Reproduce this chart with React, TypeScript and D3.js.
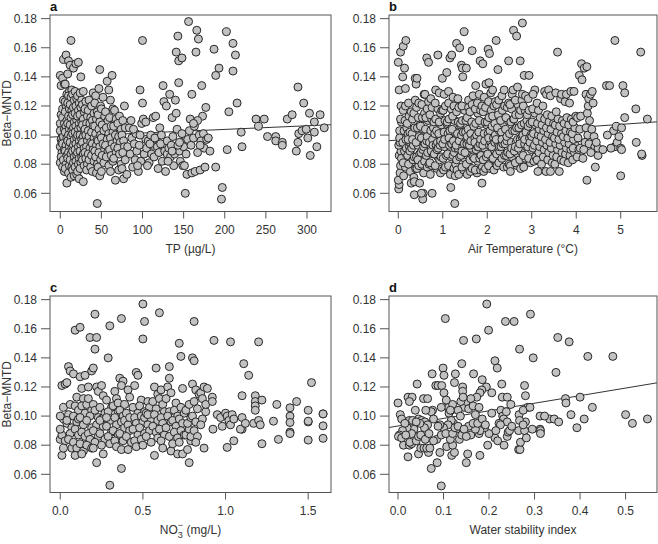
import React from 'react';
import * as d3 from 'd3';

const betaTicks = [0.06, 0.08, 0.1, 0.12, 0.14, 0.16, 0.18];
const tpTicks = [0, 50, 100, 150, 200, 250, 300];
const airTempTicks = [0, 1, 2, 3, 4, 5];
const nitrateTicks = [0, 0.5, 1.0, 1.5];
const stabilityTicks = [0, 0.1, 0.2, 0.3, 0.4, 0.5];

// [TP (µg/L), Beta-MNTD]
const tpPoints: [number, number][] = [
  [0,.141],[1,.134],[0,.108],[2,.101],[1,.097],[0,.092],[2,.088],[1,.085],[0,.081],[2,.095],[1,.114],[0,.103],
  [4,.152],[3,.139],[5,.135],[4,.124],[3,.112],[5,.104],[4,.099],[3,.094],[5,.09],[4,.083],[3,.078],[5,.075],[3,.118],[5,.108],
  [7,.155],[6,.135],[8,.128],[7,.12],[6,.116],[8,.11],[7,.106],[6,.102],[8,.098],[7,.093],[6,.089],[8,.086],[7,.08],[6,.077],[8,.067],[6,.123],
  [10,.151],[9,.142],[11,.13],[10,.127],[9,.122],[11,.118],[10,.113],[9,.108],[11,.104],[10,.1],[9,.096],[11,.092],[10,.088],[9,.084],[11,.079],[10,.074],
  [13,.165],[12,.148],[14,.131],[13,.126],[12,.121],[14,.117],[13,.112],[12,.107],[14,.103],[13,.099],[12,.095],[14,.091],[13,.087],[12,.083],[14,.078],[13,.071],
  [16,.146],[15,.128],[17,.124],[16,.119],[15,.114],[17,.109],[16,.105],[15,.101],[17,.097],[16,.093],[15,.089],[17,.085],[16,.081],[15,.076],[17,.072],
  [19,.149],[18,.13],[20,.125],[19,.12],[18,.115],[20,.11],[19,.106],[18,.102],[20,.098],[19,.094],[18,.09],[20,.086],[19,.082],[18,.078],[20,.073],
  [22,.15],[21,.127],[23,.122],[22,.117],[21,.113],[23,.108],[22,.104],[21,.1],[23,.096],[22,.092],[21,.088],[23,.084],[22,.08],[21,.075],[23,.07],
  [25,.14],[24,.129],[26,.124],[25,.119],[24,.114],[26,.109],[25,.105],[24,.1],[26,.097],[25,.093],[24,.089],[26,.085],[25,.081],[24,.077],
  [28,.13],[27,.121],[29,.116],[28,.111],[27,.107],[29,.103],[28,.099],[27,.095],[29,.091],[28,.087],[27,.083],[29,.079],[28,.068],
  [31,.123],[30,.118],[33,.113],[32,.108],[30,.104],[31,.1],[33,.096],[32,.092],[30,.088],[31,.084],[33,.08],[32,.076],
  [35,.124],[34,.117],[37,.112],[36,.108],[34,.103],[35,.099],[37,.095],[36,.091],[34,.087],[35,.083],[37,.078],
  [40,.129],[38,.12],[41,.115],[39,.11],[40,.106],[38,.102],[41,.098],[39,.094],[40,.09],[38,.086],[41,.082],[39,.075],
  [43,.127],[42,.122],[45,.116],[44,.111],[42,.106],[43,.101],[45,.097],[44,.093],[42,.089],[43,.085],[45,.08],[44,.074],[45,.053],
  [48,.145],[47,.132],[49,.12],[46,.114],[48,.109],[47,.104],[49,.1],[46,.096],[48,.092],[47,.088],[49,.083],[46,.078],[48,.072],
  [52,.126],[50,.118],[54,.113],[51,.107],[53,.103],[50,.098],[52,.094],[54,.09],[51,.086],[53,.081],[50,.075],
  [57,.137],[59,.131],[55,.116],[58,.11],[56,.105],[59,.101],[57,.097],[55,.093],[58,.089],[56,.085],[59,.079],
  [63,.141],[61,.124],[64,.118],[60,.112],[62,.106],[64,.102],[61,.098],[63,.094],[60,.09],[62,.086],[64,.082],[61,.075],
  [66,.117],[68,.111],[65,.106],[67,.1],[69,.096],[66,.092],[68,.088],[65,.084],[67,.069],
  [72,.113],[70,.108],[74,.104],[71,.099],[73,.095],[70,.091],[72,.087],[74,.08],[71,.076],
  [78,.12],[76,.11],[79,.105],[75,.1],[77,.096],[78,.092],[76,.088],[79,.083],[75,.077],[77,.07],
  [82,.092],[84,.105],[85,.087],[87,.098],[88,.078],[90,.094],[91,.083],[92,.101],[93,.089],[95,.075],[96,.093],[97,.131],[98,.082],[99,.108],[100,.122],[100,.165],[101,.111],[102,.087],[104,.109],[104,.097],[81,.073],[86,.11],[89,.104],[94,.079],[97,.1],
  [105,.091],[107,.096],[108,.081],[110,.1],[111,.087],[112,.093],[113,.112],[114,.085],[116,.113],[117,.098],[118,.092],[119,.077],[120,.088],[121,.105],[122,.094],[124,.082],[125,.134],[126,.123],[127,.089],[128,.075],[129,.12],[130,.096],[106,.079],[109,.094],[115,.098],[123,.1],[130,.087],
  [132,.091],[133,.128],[134,.085],[135,.093],[136,.112],[137,.099],[138,.079],[139,.087],[140,.124],[141,.157],[141,.115],[142,.104],[143,.168],[144,.136],[144,.151],[145,.089],[146,.082],[147,.095],[148,.153],[148,.101],[149,.079],[150,.092],[151,.079],[152,.06],[153,.087],[154,.073],[155,.097],[156,.178],[157,.103],[158,.111],[159,.093],[160,.128],[160,.074],[131,.082],[136,.089],[143,.093],[145,.095],
  [162,.098],[163,.106],[164,.075],[165,.157],[166,.172],[167,.088],[168,.166],[169,.1],[170,.076],[171,.096],[172,.134],[173,.113],[174,.101],[175,.091],[176,.078],[177,.119],[178,.097],[180,.098],[182,.089],[187,.159],[189,.141],[189,.078],[193,.146],[197,.064],[196,.056],[202,.171],[203,.09],[205,.116],[210,.163],[210,.144],[213,.155],[215,.122],[220,.102],[221,.092],[167,.11],[162,.108],[170,.093],
  [238,.111],[241,.106],[248,.111],[252,.099],[262,.099],[262,.096],[270,.095],[270,.093],[276,.111],[282,.114],[289,.133],[289,.095],[287,.089],[290,.101],[294,.103],[296,.122],[299,.104],[301,.098],[303,.115],[304,.086],[309,.102],[309,.109],[312,.092],[316,.114],[321,.105]
];

// [Air temperature (°C), Beta-MNTD]
const airTempPoints: [number, number][] = [
  [.01,.063],[.02,.066],[0,.069],[.04,.074],[.05,.079],[.02,.086],[.06,.089],[.01,.093],[.04,.095],[.08,.101],[.03,.103],[.07,.109],[.05,.111],[.02,.131],[.06,.12],[0,.15],[.05,.157],[.03,.098],[.07,.084],
  [.12,.072],[.16,.078],[.11,.081],[.18,.087],[.14,.089],[.1,.095],[.17,.097],[.13,.103],[.19,.105],[.15,.11],[.11,.117],[.16,.12],[.11,.161],[.17,.165],[.16,.132],[.1,.14],[.14,.146],[.18,.091],
  [.27,.075],[.23,.08],[.29,.085],[.21,.086],[.25,.092],[.28,.094],[.22,.101],[.26,.102],[.2,.108],[.24,.113],[.29,.116],[.23,.122],[.29,.067],[.22,.097],[.26,.089],
  [.35,.071],[.39,.077],[.33,.083],[.36,.085],[.3,.091],[.34,.093],[.38,.099],[.31,.101],[.37,.105],[.32,.111],[.35,.115],[.38,.124],[.32,.097],[.36,.059],[.38,.139],[.36,.068],
  [.42,.077],[.46,.079],[.41,.085],[.48,.087],[.44,.093],[.4,.095],[.47,.099],[.43,.105],[.49,.107],[.45,.112],[.41,.119],[.46,.122],[.4,.135],[.42,.139],[.48,.067],[.44,.083],
  [.57,.074],[.53,.08],[.59,.082],[.51,.088],[.55,.09],[.58,.096],[.52,.098],[.56,.104],[.5,.106],[.54,.112],[.59,.115],[.53,.121],[.56,.06],[.58,.128],[.55,.056],[.52,.06],[.57,.092],
  [.65,.078],[.69,.08],[.63,.086],[.66,.088],[.6,.094],[.64,.096],[.68,.102],[.61,.104],[.67,.11],[.62,.112],[.65,.118],[.68,.123],[.64,.153],[.68,.15],[.6,.128],[.65,.099],
  [.72,.073],[.76,.079],[.71,.081],[.78,.087],[.74,.089],[.7,.095],[.77,.097],[.73,.103],[.79,.105],[.75,.111],[.71,.114],[.76,.119],[.76,.06],[.73,.125],[.78,.093],
  [.87,.077],[.83,.079],[.89,.085],[.81,.087],[.85,.093],[.88,.095],[.82,.101],[.86,.103],[.8,.109],[.84,.111],[.89,.118],[.83,.122],[.89,.155],[.84,.131],[.87,.09],
  [.95,.074],[.99,.077],[.93,.083],[.96,.085],[.9,.091],[.94,.093],[.98,.099],[.91,.101],[.97,.107],[.92,.109],[.95,.115],[.98,.117],[.99,.139],[.92,.129],[.95,.096],
  [1.02,.076],[1.06,.078],[1.01,.084],[1.08,.086],[1.04,.092],[1.0,.094],[1.07,.1],[1.03,.102],[1.09,.108],[1.05,.11],[1.01,.117],[1.06,.12],[1.03,.128],[1.09,.143],[1.04,.097],
  [1.17,.073],[1.13,.079],[1.19,.085],[1.11,.087],[1.15,.093],[1.18,.095],[1.12,.101],[1.16,.103],[1.1,.109],[1.14,.111],[1.19,.118],[1.13,.122],[1.18,.064],[1.13,.13],[1.16,.153],[1.2,.155],[1.14,.098],
  [1.25,.077],[1.29,.08],[1.23,.086],[1.26,.088],[1.2,.094],[1.24,.096],[1.28,.102],[1.21,.104],[1.27,.11],[1.22,.113],[1.25,.12],[1.28,.072],[1.27,.053],[1.23,.126],[1.28,.091],
  [1.32,.076],[1.36,.073],[1.31,.083],[1.38,.085],[1.34,.091],[1.3,.093],[1.37,.099],[1.33,.101],[1.39,.107],[1.35,.109],[1.31,.116],[1.36,.119],[1.31,.163],[1.38,.16],[1.34,.125],[1.37,.096],
  [1.47,.076],[1.43,.078],[1.49,.084],[1.41,.086],[1.45,.092],[1.48,.094],[1.42,.1],[1.46,.102],[1.4,.108],[1.44,.11],[1.49,.117],[1.43,.12],[1.48,.171],[1.42,.148],[1.45,.14],[1.44,.146],[1.43,.089],
  [1.55,.073],[1.59,.078],[1.53,.08],[1.56,.086],[1.5,.088],[1.54,.094],[1.58,.096],[1.51,.102],[1.57,.104],[1.52,.11],[1.55,.112],[1.58,.119],[1.53,.146],[1.58,.124],[1.55,.099],
  [1.62,.075],[1.66,.077],[1.61,.083],[1.68,.085],[1.64,.091],[1.6,.093],[1.67,.099],[1.63,.101],[1.69,.107],[1.65,.109],[1.61,.116],[1.66,.121],[1.66,.158],[1.68,.127],[1.63,.096],
  [1.77,.074],[1.73,.076],[1.79,.082],[1.71,.084],[1.75,.09],[1.78,.092],[1.72,.098],[1.76,.1],[1.7,.106],[1.74,.108],[1.79,.115],[1.73,.118],[1.74,.134],[1.78,.122],[1.72,.095],
  [1.85,.076],[1.89,.078],[1.83,.084],[1.86,.086],[1.8,.092],[1.84,.094],[1.88,.1],[1.81,.102],[1.87,.108],[1.82,.11],[1.85,.117],[1.88,.12],[1.84,.151],[1.88,.067],[1.82,.128],[1.85,.097],
  [1.92,.075],[1.96,.077],[1.91,.083],[1.98,.085],[1.94,.091],[1.9,.093],[1.97,.099],[1.93,.101],[1.99,.107],[1.95,.109],[1.91,.116],[1.96,.119],[1.9,.149],[1.97,.135],[1.93,.126],[1.94,.096],
  [2.07,.077],[2.03,.079],[2.09,.085],[2.01,.087],[2.05,.093],[2.08,.095],[2.02,.101],[2.06,.103],[2.0,.109],[2.04,.112],[2.09,.117],[2.03,.123],[2.02,.159],[2.05,.156],[2.04,.136],[2.08,.129],[2.03,.098],
  [2.15,.076],[2.19,.082],[2.13,.084],[2.16,.09],[2.1,.092],[2.14,.098],[2.18,.1],[2.11,.106],[2.17,.108],[2.12,.113],[2.15,.12],[2.18,.123],[2.12,.131],[2.17,.095],
  [2.22,.079],[2.26,.081],[2.21,.087],[2.28,.089],[2.24,.095],[2.2,.097],[2.27,.103],[2.23,.105],[2.29,.111],[2.25,.114],[2.21,.121],[2.26,.124],[2.2,.165],[2.24,.145],[2.27,.092],
  [2.37,.078],[2.33,.084],[2.39,.086],[2.31,.092],[2.35,.094],[2.38,.1],[2.32,.102],[2.36,.108],[2.3,.11],[2.34,.117],[2.39,.12],[2.33,.127],[2.38,.131],[2.33,.097],
  [2.45,.078],[2.49,.08],[2.43,.086],[2.46,.088],[2.4,.094],[2.44,.096],[2.48,.102],[2.41,.104],[2.47,.11],[2.42,.112],[2.45,.119],[2.48,.122],[2.48,.151],[2.44,.099],
  [2.52,.079],[2.56,.085],[2.51,.087],[2.58,.093],[2.54,.095],[2.5,.101],[2.57,.103],[2.53,.109],[2.59,.111],[2.55,.118],[2.51,.121],[2.56,.128],[2.58,.131],[2.59,.172],[2.52,.075],[2.55,.091],
  [2.67,.079],[2.63,.081],[2.69,.087],[2.61,.089],[2.65,.095],[2.68,.097],[2.62,.103],[2.66,.105],[2.6,.111],[2.64,.114],[2.69,.121],[2.63,.124],[2.66,.168],[2.68,.133],[2.63,.092],
  [2.75,.077],[2.79,.081],[2.73,.083],[2.76,.089],[2.7,.091],[2.74,.097],[2.78,.099],[2.71,.105],[2.77,.107],[2.72,.114],[2.75,.117],[2.78,.124],[2.79,.177],[2.74,.151],[2.79,.128],[2.73,.094],
  [2.82,.078],[2.86,.084],[2.81,.086],[2.88,.092],[2.84,.094],[2.8,.1],[2.87,.102],[2.83,.108],[2.89,.11],[2.85,.117],[2.81,.12],[2.83,.141],[2.86,.127],[2.84,.097],
  [2.97,.081],[2.93,.084],[2.99,.09],[2.91,.092],[2.95,.098],[2.98,.1],[2.92,.106],[2.96,.108],[2.9,.114],[2.94,.117],[2.92,.125],[2.94,.141],[2.96,.095],
  [3.05,.082],[3.09,.085],[3.03,.091],[3.06,.093],[3.0,.099],[3.04,.101],[3.08,.107],[3.01,.109],[3.07,.115],[3.02,.118],[3.07,.131],[3.03,.128],
  [3.14,.075],[3.12,.083],[3.16,.088],[3.18,.092],[3.11,.096],[3.15,.1],[3.17,.104],[3.13,.108],[3.19,.112],[3.15,.117],[3.12,.122],
  [3.22,.08],[3.26,.085],[3.28,.09],[3.24,.095],[3.21,.099],[3.27,.103],[3.23,.107],[3.29,.111],[3.25,.12],[3.29,.13],
  [3.32,.075],[3.36,.083],[3.38,.088],[3.34,.093],[3.31,.097],[3.37,.101],[3.33,.105],[3.39,.109],[3.35,.114],[3.33,.128],[3.38,.131],
  [3.42,.075],[3.46,.081],[3.48,.086],[3.44,.091],[3.41,.095],[3.47,.099],[3.43,.104],[3.49,.108],[3.45,.113],[3.42,.127],
  [3.52,.08],[3.56,.085],[3.58,.09],[3.54,.094],[3.51,.098],[3.57,.102],[3.53,.107],[3.59,.111],[3.55,.116],[3.58,.157],[3.54,.129],
  [3.62,.075],[3.66,.083],[3.68,.088],[3.64,.093],[3.61,.097],[3.67,.101],[3.63,.106],[3.69,.11],[3.65,.125],[3.67,.128],
  [3.72,.082],[3.76,.087],[3.78,.091],[3.74,.095],[3.71,.099],[3.77,.103],[3.73,.108],[3.79,.112],[3.75,.123],[3.78,.128],
  [3.82,.081],[3.86,.086],[3.88,.09],[3.84,.094],[3.81,.098],[3.87,.102],[3.83,.107],[3.89,.111],[3.85,.122],[3.88,.13],
  [3.92,.083],[3.96,.088],[3.98,.093],[3.94,.097],[3.91,.101],[3.97,.105],[3.93,.109],[3.99,.113],[3.95,.13],[3.93,.091],
  [4.02,.085],[4.06,.09],[4.04,.098],[4.08,.104],[4.03,.112],[4.07,.141],[4.1,.113],[4.09,.091],
  [4.12,.149],[4.18,.146],[4.24,.147],[4.13,.138],[4.15,.084],[4.24,.069],[4.2,.095],[4.22,.105],[4.25,.115],[4.27,.12],[4.22,.128],[4.28,.125],[4.26,.1],[4.29,.094],[4.17,.09],[4.3,.11],
  [4.32,.128],[4.36,.13],[4.38,.122],[4.35,.104],[4.4,.099],[4.42,.092],[4.43,.078],[4.49,.086],[4.49,.091],[4.45,.095],[4.33,.088],
  [4.68,.134],[4.75,.134],[5.05,.134],[5.09,.129],[5.34,.118],[5.09,.112],[4.84,.103],[5.6,.111],[5.35,.095],[5.48,.086],[5.47,.087],[5.0,.072],[4.87,.092],[4.92,.095],[4.96,.099],[5.0,.091],[5.02,.09],[4.78,.091],[4.87,.165],[5.45,.157],[4.6,.09],[4.7,.1],[4.9,.106],[5.02,.105]
];

// [NO3- (mg/L), Beta-MNTD]
const nitratePoints: [number, number][] = [
  [0,.084],[.01,.087],[0,.091],[.02,.106],[.01,.073],[.03,.083],[.02,.098],[.01,.121],[.03,.122],[0,.1],[.02,.078],
  [.04,.123],[.05,.134],[.06,.108],[.05,.101],[.04,.095],[.07,.092],[.06,.088],[.05,.084],[.07,.078],[.04,.097],[.06,.131],
  [.09,.159],[.08,.129],[.1,.113],[.09,.107],[.11,.104],[.08,.1],[.1,.096],[.09,.091],[.11,.087],[.08,.082],[.1,.078],[.09,.073],[.11,.098],
  [.12,.161],[.12,.127],[.14,.112],[.13,.107],[.15,.102],[.12,.099],[.14,.094],[.13,.089],[.15,.086],[.12,.081],[.14,.076],[.13,.074],[.15,.128],[.13,.119],
  [.18,.154],[.17,.12],[.16,.108],[.19,.104],[.18,.1],[.16,.097],[.19,.092],[.17,.088],[.18,.084],[.16,.08],[.19,.078],[.17,.112],[.19,.131],
  [.21,.17],[.22,.154],[.21,.146],[.2,.133],[.22,.12],[.23,.117],[.2,.108],[.21,.104],[.23,.099],[.22,.094],[.2,.09],[.23,.086],[.21,.082],[.22,.068],[.2,.078],
  [.25,.121],[.26,.114],[.24,.106],[.27,.102],[.25,.098],[.26,.093],[.24,.088],[.27,.084],[.25,.08],[.26,.074],[.24,.097],
  [.29,.14],[.3,.162],[.28,.111],[.31,.106],[.29,.103],[.3,.097],[.28,.093],[.31,.089],[.29,.086],[.3,.081],[.3,.0525],[.28,.099],
  [.33,.117],[.34,.112],[.32,.107],[.35,.103],[.33,.099],[.34,.094],[.32,.09],[.35,.087],[.33,.083],[.34,.079],[.35,.109],
  [.37,.167],[.36,.126],[.38,.124],[.37,.121],[.39,.108],[.36,.104],[.38,.1],[.37,.096],[.39,.092],[.36,.088],[.38,.083],[.37,.077],[.37,.064],[.39,.097],
  [.41,.118],[.42,.113],[.4,.102],[.43,.097],[.41,.094],[.42,.09],[.4,.086],[.43,.082],[.41,.077],[.42,.099],
  [.46,.13],[.47,.128],[.45,.121],[.44,.106],[.47,.102],[.45,.099],[.46,.095],[.44,.091],[.47,.087],[.45,.083],[.46,.079],
  [.5,.177],[.5,.153],[.49,.111],[.48,.107],[.51,.103],[.49,.1],[.5,.096],[.48,.092],[.51,.088],[.49,.084],[.5,.08],[.51,.099],
  [.51,.165],[.53,.11],[.54,.106],[.52,.102],[.55,.098],[.53,.094],[.54,.09],[.52,.086],[.55,.082],[.53,.101],
  [.6,.171],[.58,.133],[.57,.12],[.59,.115],[.56,.11],[.58,.105],[.57,.101],[.59,.097],[.56,.093],[.58,.089],[.57,.073],[.59,.085],
  [.61,.118],[.6,.112],[.62,.108],[.63,.103],[.61,.099],[.62,.095],[.6,.091],[.63,.087],[.61,.083],[.62,.078],
  [.66,.134],[.66,.126],[.65,.12],[.67,.116],[.64,.112],[.66,.103],[.65,.1],[.67,.096],[.64,.092],[.66,.086],[.67,.076],
  [.7,.109],[.69,.104],[.71,.1],[.68,.097],[.7,.093],[.69,.089],[.71,.085],[.68,.081],[.71,.074],
  [.72,.15],[.73,.141],[.74,.119],[.73,.106],[.75,.102],[.72,.098],[.74,.095],[.73,.09],[.75,.087],[.72,.082],[.74,.074],
  [.78,.068],[.77,.077],[.79,.083],[.76,.087],[.78,.091],[.77,.095],[.79,.099],[.76,.104],[.78,.108],[.79,.086],
  [.81,.165],[.8,.14],[.81,.138],[.8,.122],[.82,.118],[.81,.11],[.83,.105],[.8,.1],[.82,.096],[.81,.09],[.83,.086],[.82,.082],
  [.84,.115],[.85,.116],[.86,.112],[.87,.078],[.86,.098],[.88,.103],[.85,.094],[.87,.12],[.88,.108],
  [.89,.119],[.93,.152],[.92,.113],[.92,.11],[.924,.091],[.95,.101],[.97,.099],[.98,.093],[1.0,.102],[1.01,.1],[1.02,.097],[1.03,.094],[1.04,.101],[1.05,.098],[1.03,.151],[1.01,.0785],[1.05,.083],
  [1.1,.114],[1.1,.099],[1.1,.091],[1.09,.091],[1.12,.095],[1.11,.136],[1.14,.128],[1.17,.095],[1.2,.097],[1.21,.094],[1.2,.151],[1.18,.114],[1.18,.11],[1.18,.107],[1.18,.104],[1.22,.111],[1.22,.081],
  [1.29,.0965],[1.31,.108],[1.32,.084],[1.39,.1057],[1.39,.1],[1.39,.0956],[1.39,.089],[1.39,.088],[1.43,.11],[1.5,.104],[1.5,.096],[1.5,.0965],[1.5,.0835],[1.52,.123],[1.59,.1015],[1.59,.1015],[1.59,.0933],[1.59,.0847]
];

// [Water stability index, Beta-MNTD]
const stabilityPoints: [number, number][] = [
  [.195,.177],[.104,.167],[.291,.17],[.236,.165],[.255,.165],[.199,.159],[.144,.152],[.172,.153],[.351,.154],[.376,.151],[.267,.146],[.297,.14],[.213,.138],[.218,.133],[.417,.141],[.472,.141],[.347,.13],[.099,.133],[.101,.128],[.14,.136],[.075,.129],[.166,.129],[.126,.129],[.185,.125],
  [.042,.122],[.124,.123],[.083,.121],[.088,.121],[.096,.121],[.142,.12],[.142,.117],[.194,.12],[.206,.116],[.228,.122],[.278,.121],[.28,.114],[.184,.118],[.18,.116],[.101,.116],[.173,.113],[.022,.113],[.031,.113],[.025,.11],[.056,.112],[.065,.112],[.229,.113],[.24,.113],[.248,.108],[.368,.112],[.369,.109],[.4,.113],[.427,.106],[0,.109],[.285,.106],
  [.111,.106],[.112,.102],[.117,.104],[.145,.106],[.15,.11],[.16,.112],[.155,.105],[.165,.107],[.17,.101],[.178,.106],[.132,.104],[.137,.1],[.12,.108],[.115,.104],[.076,.104],[.073,.103],[.078,.098],[.095,.106],[.106,.111],[.038,.104],[.045,.098],[.005,.101],[.008,.098],[.025,.097],[.032,.097],[.052,.097],[.059,.096],[.061,.104],[.138,.11],[.143,.113],[.226,.104],[.23,.1],[.232,.098],[.238,.103],[.24,.096],[.266,.101],[.275,.104],[.28,.096],[.29,.106],[.267,.097],[.206,.102],[.222,.095],
  [.5,.101],[.515,.095],[.548,.098],[.38,.101],[.409,.098],[.393,.092],[.333,.098],[.343,.098],[.353,.096],[.312,.1],[.322,.1],[.312,.091],[.313,.09],[.313,.088],[.295,.091],[.265,.09],[.278,.09],[.265,.077],[.268,.077],[.269,.082],
  [.095,.052],[.073,.064],[.086,.068],[.15,.068],[.118,.073],[.124,.075],[.153,.074],[.18,.073],[.022,.072],[.067,.075],[.092,.075],[.045,.074],[.012,.08],[.025,.08],[.03,.081],[.05,.078],[.057,.078],[.063,.078],[.07,.078],[.085,.084],[.078,.083],[.107,.079],[.12,.08],[.115,.084],[.135,.084],[.14,.087],[.16,.087],[.178,.088],[.197,.08],[.213,.085],[.219,.083],[.233,.08],[.24,.086],[.242,.089],[.2,.088],[.19,.092],[.18,.09],[.17,.091],[.155,.093],[.128,.091],[.122,.095],[.117,.097],[.11,.094],[.1,.092],[.092,.094],[.088,.093],[.065,.094],[.058,.092],[.048,.095],[.04,.096],[.035,.091],[.03,.088],[.02,.092],[.015,.095],[.01,.09],[.003,.087],[.001,.086],[.008,.085],[.017,.087],[.026,.082],[.04,.083],[.045,.086],[.05,.087],[.06,.084],[.068,.088],[.095,.087],[.105,.088],[.12,.088],[.125,.092],[.132,.093],[.145,.091],[.15,.086],[.165,.095],[.175,.095],[.185,.098],[.192,.094],[.225,.094],[.215,.09],[.245,.09],[.25,.093],[.275,.094],[.282,.085]
];

// linear fits drawn in panels a, b and d
const fitTP = { intercept: 0.0989, slope: 0.000025 };
const fitAirTemp = { intercept: 0.0966, slope: 0.00215 };
const fitStability = { intercept: 0.0932, slope: 0.0521 };

const FONT = "'Liberation Sans', Arial, Helvetica, sans-serif";
const TEXT = '#333';

type PanelSpec = {
  label: string;
  left: number; right: number; top: number; bottom: number;
  xDomain: [number, number];
  xTicks: number[];
  xFormat: (v: number) => string;
  points: [number, number][];
  fit?: { intercept: number; slope: number };
  xTitle: React.ReactNode;
  yTitle: boolean;
};

function Panel({ p }: { p: PanelSpec }) {
  const x = d3.scaleLinear().domain(p.xDomain).range([p.left, p.right]);
  const y = d3.scaleLinear().domain([0.0475, 0.1825]).range([p.bottom, p.top]);
  const line = d3.line<number>().x(v => x(v)).y(v => y(p.fit!.intercept + p.fit!.slope * v));
  const fmtY = d3.format('.2f');
  const midY = (p.top + p.bottom) / 2;
  return (
    <g>
      {p.fit && (
        <path d={line(p.xDomain) || ''} fill="none" stroke="#333" strokeWidth={1} />
      )}
      {p.points.map((d, i) => (
        <circle key={i} cx={x(d[0])} cy={y(d[1])} r={4} fill="#c2c2c2" stroke="#262626" strokeWidth={1} />
      ))}
      <rect x={p.left} y={p.top} width={p.right - p.left} height={p.bottom - p.top} fill="none" stroke="#555" strokeWidth={1} />
      {betaTicks.map(t => (
        <g key={t}>
          <line x1={p.left - 9} x2={p.left} y1={y(t)} y2={y(t)} stroke="#555" />
          <text x={p.left - 13} y={y(t)} dy="0.35em" textAnchor="end" fontSize={12} fill={TEXT} fontFamily={FONT}>{fmtY(t)}</text>
        </g>
      ))}
      {p.xTicks.map(t => (
        <g key={t}>
          <line x1={x(t)} x2={x(t)} y1={p.bottom} y2={p.bottom + 7} stroke="#555" />
          <text x={x(t)} y={p.bottom + 22} textAnchor="middle" fontSize={12} fill={TEXT} fontFamily={FONT}>{p.xFormat(t)}</text>
        </g>
      ))}
      <text x={(p.left + p.right) / 2} y={p.bottom + 41} textAnchor="middle" fontSize={12} fill={TEXT} fontFamily={FONT}>{p.xTitle}</text>
      {p.yTitle && (
        <text transform={`translate(11,${midY}) rotate(-90)`} textAnchor="middle" fontSize={12} fill={TEXT} fontFamily={FONT}>Beta−MNTD</text>
      )}
      <text x={p.left} y={p.top - 4} fontSize={13} fontWeight="bold" fill="#111" fontFamily={FONT}>{p.label}</text>
    </g>
  );
}

export default function App() {
  const panels: PanelSpec[] = [
    { label: 'a', left: 50, right: 331, top: 15, bottom: 211.5, xDomain: [-12.5, 329.2], xTicks: tpTicks, xFormat: d3.format('d'), points: tpPoints, fit: fitTP, xTitle: 'TP (µg/L)', yTitle: true },
    { label: 'b', left: 389, right: 657, top: 15, bottom: 211.5, xDomain: [-0.209, 5.816], xTicks: airTempTicks, xFormat: d3.format('d'), points: airTempPoints, fit: fitAirTemp, xTitle: 'Air Temperature (°C)', yTitle: false },
    { label: 'c', left: 50, right: 331, top: 296, bottom: 492.5, xDomain: [-0.062, 1.638], xTicks: nitrateTicks, xFormat: d3.format('.1f'), points: nitratePoints, xTitle: (
      <>
        <tspan>NO</tspan>
        <tspan dy={4} fontSize={9}>3</tspan>
        <tspan dx={-5} dy={-10} fontSize={9}>−</tspan>
        <tspan dy={6}> (mg/L)</tspan>
      </>
    ), yTitle: true },
    { label: 'd', left: 389, right: 657, top: 296, bottom: 492.5, xDomain: [-0.0198, 0.569], xTicks: stabilityTicks, xFormat: d3.format('.1f'), points: stabilityPoints, fit: fitStability, xTitle: 'Water stability index', yTitle: false },
  ];
  return (
    <svg width={658} height={544} style={{ position: 'absolute', left: 0, top: 0, background: '#fff' }}>
      <rect width={658} height={544} fill="#fff" />
      {panels.map(p => <Panel key={p.label} p={p} />)}
    </svg>
  );
}
